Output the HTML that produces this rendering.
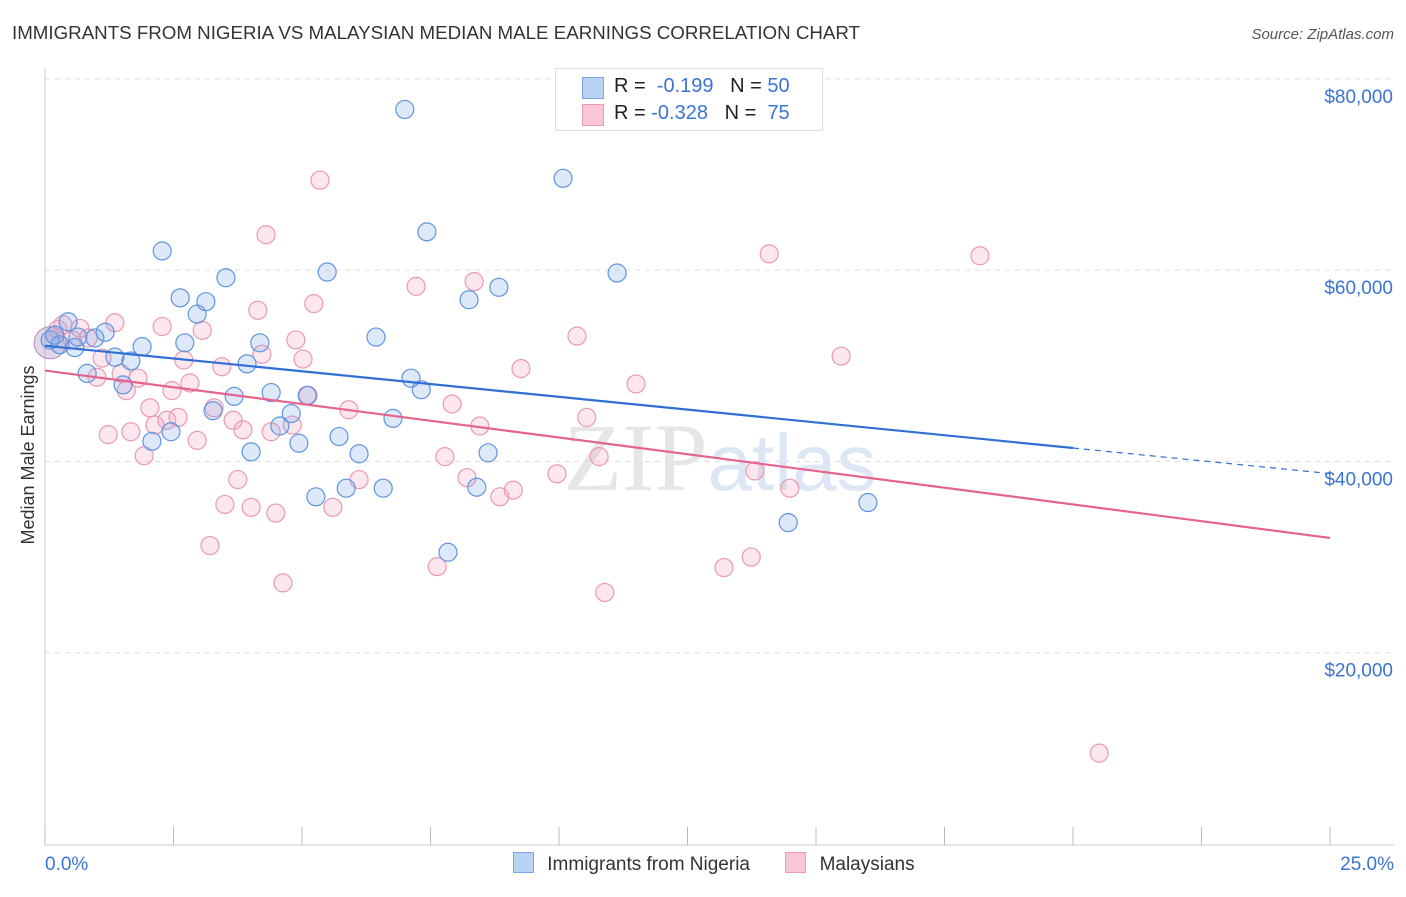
<!DOCTYPE html>
<html><head><meta charset="utf-8"><style>
body{margin:0;background:#fff;font-family:"Liberation Sans",sans-serif;}
#c{position:relative;width:1406px;height:892px;}
</style></head><body>
<div id="c">
<svg id="s" width="1406" height="892">
<text x="12" y="39" font-size="18" fill="#333" textLength="848" lengthAdjust="spacingAndGlyphs">IMMIGRANTS FROM NIGERIA VS MALAYSIAN MEDIAN MALE EARNINGS CORRELATION CHART</text>
<text x="1394" y="39" font-size="15" fill="#555" font-style="italic" text-anchor="end">Source: ZipAtlas.com</text>
<text x="720" y="490" font-size="96" fill="#e6e6e6" text-anchor="middle" font-family="Liberation Serif">ZIP<tspan fill="#dce6f5" font-family="Liberation Sans" font-size="80">atlas</tspan></text>
<text transform="translate(34,455) rotate(-90)" font-size="18" fill="#333" text-anchor="middle">Median Male Earnings</text>
<g id="grid"></g><g id="pts"></g><g id="lines"></g>
</svg>
<div style="position:absolute;left:555px;top:68px;width:266px;height:61px;border:1px solid #ddd;background:#fff;font-size:20px;color:#222">
<div style="position:absolute;left:26px;top:8px;width:20px;height:20px;background:#b9d3f5;border:1px solid #7aa6e4"></div>
<div style="position:absolute;left:58px;top:6px">R = &nbsp;<span style="color:#3a74d4">-0.199</span> &nbsp;&nbsp;N = <span style="color:#3a74d4">50</span></div>
<div style="position:absolute;left:26px;top:35px;width:20px;height:20px;background:#f9c6d5;border:1px solid #ee9ab4"></div>
<div style="position:absolute;left:58px;top:33px">R = <span style="color:#3a74d4">-0.328</span> &nbsp;&nbsp;N = &nbsp;<span style="color:#3a74d4">75</span></div>
</div>
<div style="position:absolute;left:513px;top:852px;font-size:19px;color:#333;white-space:nowrap">
<span style="display:inline-block;width:19px;height:19px;background:#b9d3f5;border:1px solid #7aa6e4;vertical-align:-3px"></span>
<span style="margin-left:8px">Immigrants from Nigeria</span>
<span style="display:inline-block;width:19px;height:19px;background:#f9c6d5;border:1px solid #ee9ab4;vertical-align:-3px;margin-left:30px"></span>
<span style="margin-left:8px">Malaysians</span>
</div>
</div>
<script>
const yTicks=[20000,40000,60000,80000];
const yTickLabels=["$20,000","$40,000","$60,000","$80,000"];
const xTicks=[0,2.5,5,7.5,10,12.5,15,17.5,20,22.5,25];
const blueX=[0.10,0.19,0.29,0.45,0.58,0.64,0.82,0.97,1.17,1.36,1.52,1.67,1.89,2.08,2.28,2.45,2.63,2.72,2.96,3.13,3.27,3.52,3.68,3.93,4.01,4.18,4.40,4.57,4.79,4.94,5.10,5.27,5.49,5.72,5.86,6.11,6.44,6.58,6.77,7.00,7.12,7.32,7.43,7.84,8.25,8.40,8.62,8.83,10.08,11.13,14.46,16.01];
const blueY=[52700,53200,52200,54600,51900,53000,49200,52900,53500,50900,48000,50500,52000,42100,62000,43100,57100,52400,55400,56700,45300,59200,46800,50200,41000,52400,47200,43700,45000,41900,46900,36300,59800,42600,37200,40800,53000,37200,44500,76800,48700,47500,64000,30500,56900,37300,40900,58200,69600,59700,33600,35700];
const pinkX=[0.25,0.35,0.53,0.68,0.84,1.01,1.11,1.23,1.36,1.48,1.58,1.67,1.81,1.93,2.04,2.14,2.28,2.37,2.47,2.59,2.70,2.82,2.96,3.06,3.21,3.29,3.44,3.50,3.66,3.75,3.85,4.01,4.14,4.22,4.30,4.40,4.49,4.63,4.81,4.88,5.02,5.12,5.23,5.35,5.60,5.91,6.11,7.22,7.63,7.78,7.92,8.21,8.35,8.46,8.85,9.11,9.26,9.96,10.35,10.54,10.78,10.89,11.50,13.21,13.74,13.81,14.09,14.49,15.49,18.19,20.51];
const pinkY=[53800,54300,52700,53900,52900,48800,50800,42800,54500,49200,47400,43100,48700,40600,45600,43800,54100,44300,47400,44600,50600,48200,42200,53700,31200,45600,49900,35500,44300,38100,43300,35200,55800,51200,63700,43100,34600,27300,43800,52700,50700,46900,56500,69400,35200,45400,38100,58300,29000,40500,46000,38300,58800,43700,36300,37000,49700,38700,53100,44600,40500,26300,48100,28900,30000,39000,61700,37200,51000,61500,9500];
const blueTrend=[52100,41400];
const pinkTrend=[49500,32000];
const X=v=>45+v*51.4, Y=v=>844-v/104.55;
const NS="http://www.w3.org/2000/svg";
function mk(tag,attrs,parent){const e=document.createElementNS(NS,tag);for(const k in attrs)e.setAttribute(k,attrs[k]);document.getElementById(parent).appendChild(e);return e;}
let ax=mk('line',{x1:45,y1:68,x2:45,y2:846,stroke:'#ccc'},'grid');


let bx=mk('line',{x1:45,y1:845,x2:1394,y2:845,stroke:'#ccc'},'grid');


yTicks.forEach((t,i)=>{
 const g=mk('line',{x1:45,x2:1394,y1:Y(t),y2:Y(t),stroke:'#ddd','stroke-dasharray':'5,5'},'grid');
 
 
 const l=mk('text',{x:1393,y:Y(t)+24,'font-size':19,fill:'#3a74d4','text-anchor':'end'},'grid');
 l.textContent=yTickLabels[i];
 
 
});
xTicks.forEach(t=>{
 const k=mk('line',{x1:X(t),x2:X(t),y1:827,y2:845,stroke:'#bbb'},'grid');
 
 
});
let x0=mk('text',{x:45,y:870,'font-size':19,fill:'#3a74d4'},'grid');x0.textContent='0.0%';


let x1=mk('text',{x:1394,y:870,'font-size':19,fill:'#3a74d4','text-anchor':'end'},'grid');x1.textContent='25.0%';


let big=mk('circle',{cx:X(0.1),cy:Y(52400),r:16,fill:'rgba(170,140,190,0.35)',stroke:'#b48ab8'},'pts');


pinkX.forEach((x,i)=>{
 const c=mk('circle',{cx:X(x),cy:Y(pinkY[i]),r:9,fill:'rgba(244,160,188,0.25)',stroke:'#eb98b3','stroke-width':1.2},'pts');
 
 
});
blueX.forEach((x,i)=>{
 const c=mk('circle',{cx:X(x),cy:Y(blueY[i]),r:9,fill:'rgba(120,165,230,0.25)',stroke:'#5f95e0','stroke-width':1.2},'pts');
 
 
});
const bEnd=blueTrend[0]+(blueTrend[1]-blueTrend[0])/20*25;
let l1=mk('line',{x1:X(0),y1:Y(blueTrend[0]),x2:X(20),y2:Y(blueTrend[1]),stroke:'#2f6fd6','stroke-width':2.2},'lines');


let l2=mk('line',{x1:X(20),y1:Y(blueTrend[1]),x2:X(25),y2:Y(bEnd),stroke:'#2f6fd6','stroke-width':1.2,'stroke-dasharray':'6,5'},'lines');


let l3=mk('line',{x1:X(0),y1:Y(pinkTrend[0]),x2:X(25),y2:Y(pinkTrend[1]),stroke:'#e4648e','stroke-width':2.2},'lines');


</script>
</body></html>
